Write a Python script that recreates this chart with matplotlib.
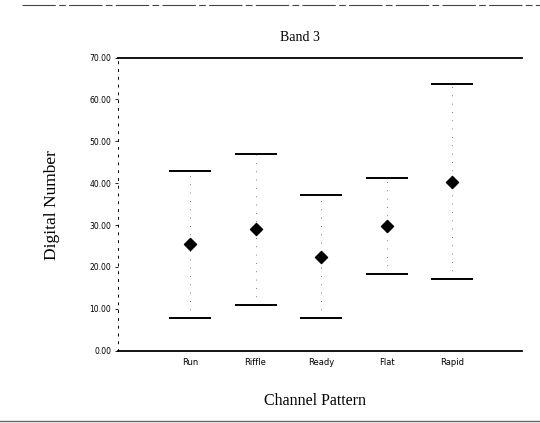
import matplotlib.pyplot as plt
from matplotlib.lines import Line2D

# values
patterns = ["Run", "Riffle", "Ready", "Flat", "Rapid"]
upper = [42.8, 46.9, 37.1, 41.3, 63.6]
lower = [7.9, 11.0, 7.8, 18.3, 17.0]
means = [25.4, 29.0, 22.3, 29.7, 40.3]
y_ticks = [0, 10, 20, 30, 40, 50, 60, 70]

serif = ["Liberation Serif", "DejaVu Serif"]

fig = plt.figure(figsize=(5.4, 4.23), dpi=100)
ax = fig.add_axes([0.2185, 0.171, 0.7485, 0.693])

x = list(range(len(patterns)))
cap_half = 0.32
for xi, hi, lo, m in zip(x, upper, lower, means):
    # faint dotted whisker between the caps
    ax.plot([xi, xi], [lo, hi], color="#555555", lw=0.6, ls=(0, (1, 9)))
    ax.hlines([hi, lo], xi - cap_half, xi + cap_half, color="black", lw=1.4)
ax.scatter(x, means, marker="D", s=38, color="black", zorder=3)

ax.set_xlim(-1.1, 5.07)
ax.set_ylim(0, 70)
ax.set_yticks(y_ticks)
ax.set_yticklabels([f"{v:.2f}" for v in y_ticks], fontsize=5.5)
ax.set_xticks(x)
ax.set_xticklabels(patterns, fontsize=6)
ax.tick_params(axis="x", length=0, pad=5)
ax.tick_params(axis="y", length=2, width=0.6, pad=3)

ax.spines["right"].set_visible(False)
ax.spines["top"].set_linewidth(1.3)
ax.spines["bottom"].set_linewidth(1.3)
ax.spines["left"].set_linestyle((0, (2, 6)))
ax.spines["left"].set_linewidth(0.7)

fig.text(0.556, 0.912, "Band 3", ha="center", va="center", family=serif, fontsize=10)
fig.text(0.583, 0.052, "Channel Pattern", ha="center", va="center", family=serif, fontsize=11.5)
fig.text(0.097, 0.515, "Digital Number", ha="center", va="center", rotation=90,
         family=serif, fontsize=12.5)

# scan borders
fig.add_artist(Line2D([0.04, 1.0], [0.988, 0.988], transform=fig.transFigure,
                      color="#444444", lw=0.8, ls=(0, (30, 3, 6, 3))))
fig.add_artist(Line2D([0.0, 1.0], [0.004, 0.004], transform=fig.transFigure,
                      color="#666666", lw=1.0))

fig.savefig("out.png", dpi=100)
